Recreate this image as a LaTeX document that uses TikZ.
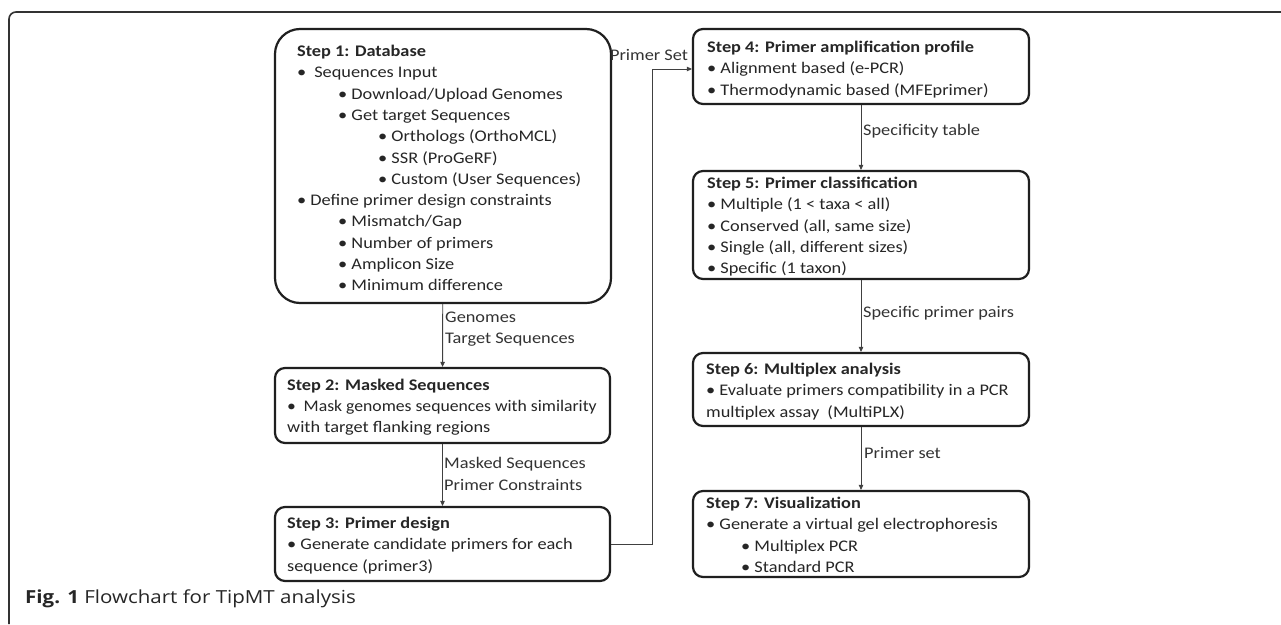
\documentclass[tikz,border=0pt]{standalone}
\usepackage{graphicx}
\usepackage{fontspec}
\setmainfont{Carlito}[FakeStretch=1.13]
\newfontfamily\capfont{Open Sans}[FakeStretch=1.14]
\usetikzlibrary{arrows.meta}
\begin{document}
\begin{tikzpicture}[x=1pt,y=-1pt,
  stepbox/.style={draw=black!88, line width=2.2pt, rounded corners=10pt, inner sep=0pt},
  txt/.style={anchor=north west, inner sep=0pt, align=left, font=\fontsize{16.2}{21.3}\selectfont, text=black!85},
  lbl/.style={inner sep=0pt, align=left, font=\fontsize{16.2}{21.3}\selectfont, text=black!80},
  conn/.style={draw=black!75, line width=0.9pt, -{Triangle[length=5pt,width=4.5pt]}}
]
\useasboundingbox (0,0) rectangle (1281,624);
\fill[white] (0,0) rectangle (1281,624);
% outer frame
\draw[black!80, line width=1.6pt, rounded corners=7pt] (9,624) -- (9,12) -- (1281,12);

% boxes
\node[stepbox, rounded corners=25pt, minimum width=336pt, minimum height=274pt] (s1) at (443,166) {};
\node[stepbox, minimum width=335pt, minimum height=75pt] (s2) at (442.5,405.5) {};
\node[stepbox, minimum width=335pt, minimum height=74pt] (s3) at (442.5,544) {};
\node[stepbox, minimum width=336pt, minimum height=75pt] (s4) at (861,66.5) {};
\node[stepbox, minimum width=336pt, minimum height=108pt] (s5) at (861,225) {};
\node[stepbox, minimum width=336pt, minimum height=73pt] (s6) at (861,389.5) {};
\node[stepbox, minimum width=336pt, minimum height=86pt] (s7) at (861,534) {};

% texts
\node[txt] (t1) at (297,45) {\textbf{Step 1: Database}\\
•\hspace{8pt}Sequences Input\\
\hspace*{41pt}• Download/Upload Genomes\\
\hspace*{41pt}• Get target Sequences\\
\hspace*{81pt}• Orthologs (OrthoMCL)\\
\hspace*{81pt}• SSR (ProGeRF)\\
\hspace*{81pt}• Custom (User Sequences)\\
• Define primer design constraints\\
\hspace*{41pt}• Mismatch/Gap\\
\hspace*{41pt}• Number of primers\\
\hspace*{41pt}• Amplicon Size\\
\hspace*{41pt}• Minimum difference};
\node[txt] (t2) at (287,378.5) {\textbf{Step 2: Masked Sequences}\\
\scalebox{0.965}[1]{•\hspace{8pt}Mask genomes sequences with similarity}\\
with target flanking regions};
\node[txt] (t3) at (287,517) {\textbf{Step 3: Primer design}\\
• Generate candidate primers for each\\
sequence (primer3)};
\node[txt] (t4) at (707,41) {\textbf{Step 4: Primer amplification profile}\\
• Alignment based (e-PCR)\\
• Thermodynamic based (MFEprimer)};
\node[txt] (t5) at (707,177) {\textbf{Step 5: Primer classification}\\
• Multiple (1 < taxa < all)\\
• Conserved (all, same size)\\
• Single (all, different sizes)\\
• Specific (1 taxon)};
\node[txt] (t6) at (706,363) {\textbf{Step 6: Multiplex analysis}\\
• Evaluate primers compatibility in a PCR\\
multiplex assay\hspace{4pt} (MultiPLX)};
\node[txt] (t7) at (706,497) {\textbf{Step 7: Visualization}\\
• Generate a virtual gel electrophoresis\\
\hspace*{35pt}• Multiplex PCR\\
\hspace*{35pt}• Standard PCR};

% connectors
\draw[conn] (s1) -- (s2);
\node[lbl, anchor=west] (l1) at (445,329) {Genomes\\Target Sequences};
\draw[conn] (s2) -- (s3);
\node[lbl, anchor=west] (l2) at (444,474) {Masked Sequences\\Primer Constraints};
\coordinate (c1) at (652,544);
\coordinate (c2) at (652,69);
\draw[conn] (s3.east) -- (c1) -- (c2) -- (s4.west |- c2);
\node[lbl] (l3) at (649,55) {Primer Set};
\draw[conn] (s4) -- (s5);
\node[lbl, anchor=west] (l4) at (863,131) {Specificity table};
\draw[conn] (s5) -- (s6);
\node[lbl, anchor=west] (l5) at (863,313) {Specific primer pairs};
\draw[conn] (s6) -- (s7);
\node[lbl, anchor=west] (l6) at (864,453) {Primer set};

% caption
\node[anchor=base west, inner sep=0pt, text=black!85] (cap) at (25,603) {\capfont\fontsize{18}{20}\selectfont\textbf{Fig. 1} Flowchart for TipMT analysis};
\end{tikzpicture}
\end{document}
